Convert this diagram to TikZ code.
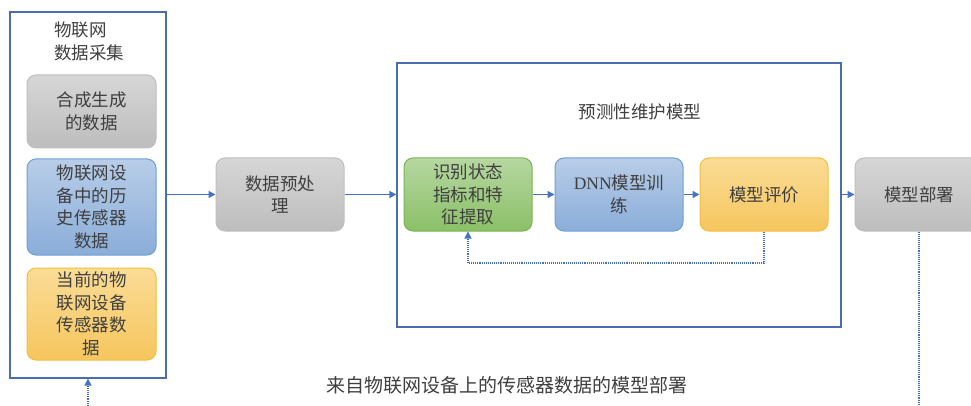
\documentclass[tikz,border=0pt]{standalone}
\usepackage{fontspec}
\setmainfont{Liberation Serif}
\newfontfamily\cjk{Noto Sans CJK SC}
\usetikzlibrary{arrows.meta}
\definecolor{txt}{HTML}{3F3F3F}
\definecolor{frame}{HTML}{4A6DB0}
\definecolor{arrowblue}{HTML}{4472C4}
\definecolor{grayT}{HTML}{D6D6D6}\definecolor{grayB}{HTML}{BDBDBD}\definecolor{grayD}{HTML}{BFBFBF}
\definecolor{blueT}{HTML}{B8CDE8}\definecolor{blueB}{HTML}{8AADD9}\definecolor{blueD}{HTML}{6E9FD8}
\definecolor{greenT}{HTML}{B6D7A1}\definecolor{greenB}{HTML}{8BC067}\definecolor{greenD}{HTML}{79B452}
\definecolor{yelT}{HTML}{FADC96}\definecolor{yelB}{HTML}{F6C65E}\definecolor{yelD}{HTML}{F4BF3C}
\tikzset{
  box/.style={rounded corners=9pt, line width=1pt, align=center, text=txt,
    font=\cjk\fontsize{17.5}{22.5}\selectfont, inner sep=0pt},
  graybox/.style={box, draw=grayD, top color=grayT, bottom color=grayB},
  bluebox/.style={box, draw=blueD, top color=blueT, bottom color=blueB},
  greenbox/.style={box, draw=greenD, top color=greenT, bottom color=greenB},
  yellowbox/.style={box, draw=yelD, top color=yelT, bottom color=yelB},
  container/.style={draw=frame, line width=1.2pt, inner sep=0pt},
  flow/.style={draw=arrowblue, line width=1.2pt, -{Triangle[length=7pt,width=7pt]}},
  dots/.style={draw=arrowblue, line width=1.1pt, densely dotted},
  dotarrow/.style={dots, -{Triangle[length=7pt,width=7pt]}},
  plain/.style={text=txt, font=\cjk\fontsize{17.5}{22.5}\selectfont, inner sep=0pt}
}
\begin{document}
\begin{tikzpicture}[x=1pt,y=-1pt]
\useasboundingbox (0,0) rectangle (971,406);
\fill[white] (0,0) rectangle (971,406);

% data acquisition column
\node[container, minimum width=156pt, minimum height=366pt] (iot) at (88,195) {};
\node[plain, align=left, anchor=north west] (iottitle) at (54,22) {物联网\\数据采集};
\node[graybox, minimum width=129pt, minimum height=73pt] (synth) at (91.5,111.5) {合成生成\\的数据};
\node[bluebox, minimum width=129pt, minimum height=96pt] (hist) at (91.5,207) {物联网设\\备中的历\\史传感器\\数据};
\node[yellowbox, minimum width=129pt, minimum height=92pt] (curr) at (91.5,314) {当前的物\\联网设备\\传感器数\\据};

% preprocessing
\node[graybox, minimum width=128pt, minimum height=73pt] (prep) at (280,194.5) {数据预处\\理};

% predictive maintenance model
\node[container, minimum width=444pt, minimum height=264pt] (pm) at (619,195) {};
\node[plain] (pmtitle) at (640,112) {预测性维护模型};
\node[greenbox, minimum width=128pt, minimum height=73pt] (feat) at (468,194.5) {识别状态\\指标和特\\征提取};
\node[bluebox, minimum width=128pt, minimum height=73pt] (dnn) at (619,194.5) {{\rmfamily DNN}模型训\\练};
\node[yellowbox, minimum width=128pt, minimum height=73pt] (eval) at (764,194.5) {模型评价};

% deployment
\node[graybox, minimum width=128pt, minimum height=73pt] (deploy) at (919,194.5) {模型部署};

\node[plain, font=\cjk\fontsize{19}{22.5}\selectfont] (caption) at (507,385) {来自物联网设备上的传感器数据的模型部署};

% connectors
\draw[flow] (iot.east |- prep) -- (prep.west);
\draw[flow] (prep.east) -- (pm.west |- prep);
\draw[flow] (feat.east) -- (dnn.west);
\draw[flow] (dnn.east) -- (eval.west);
\draw[flow] (pm.east |- deploy) -- (deploy.west);

\coordinate (fbturn) at (764,263);
\draw[dotarrow] (eval.south) -- (fbturn) -| (feat.south);

\coordinate (deployout) at (919,410);
\draw[dots] (deploy.south) -- (deployout);
\coordinate (iotin) at (88,410);
\draw[dotarrow] (iotin) -- (iot.south);
\end{tikzpicture}
\end{document}
